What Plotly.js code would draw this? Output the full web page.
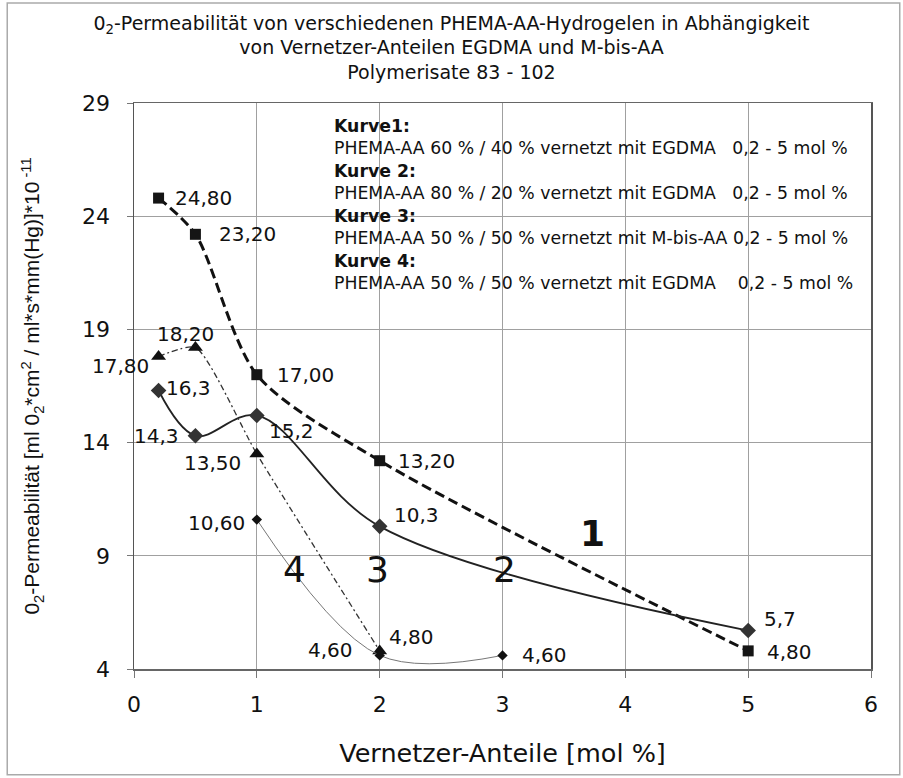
<!DOCTYPE html>
<html>
<head>
<meta charset="utf-8">
<script src="https://cdn.plot.ly/plotly-3.0.1.min.js"></script>
<style>
  html, body { margin: 0; padding: 0; background: #fff; }
  #chart { width: 903px; height: 778px; }
</style>
</head>
<body>
<div id="chart"></div>
<script>
// ---- data ----
const curve1X = [0.2, 0.5, 1, 2, 5];
const curve1Y = [24.8, 23.2, 17.0, 13.2, 4.8];
const curve1Labels = ['24,80', '23,20', '17,00', '13,20', '4,80'];

const curve2X = [0.2, 0.5, 1, 2, 5];
const curve2Y = [16.3, 14.3, 15.2, 10.3, 5.7];
const curve2Labels = ['16,3', '14,3', '15,2', '10,3', '5,7'];

const curve3X = [0.2, 0.5, 1, 2];
const curve3Y = [17.8, 18.2, 13.5, 4.8];
const curve3Labels = ['17,80', '18,20', '13,50', '4,80'];

const curve4X = [1, 2, 3];
const curve4Y = [10.6, 4.6, 4.6];
const curve4Labels = ['10,60', '4,60', '4,60'];

const curveNumbers = ['1', '2', '3', '4'];
const xTickVals = [0, 1, 2, 3, 4, 5, 6];
const yTickVals = [4, 9, 14, 19, 24, 29];

const titleLines = [
  '0<sub>2</sub>-Permeabilität von verschiedenen PHEMA-AA-Hydrogelen in Abhängigkeit',
  'von Vernetzer-Anteilen EGDMA und M-bis-AA',
  'Polymerisate 83 - 102'
];
const xTitle = 'Vernetzer-Anteile [mol %]';
const yTitle = '0<sub>2</sub>-Permeabilität [ml 0<sub>2</sub>*cm<sup>2</sup> / ml*s*mm(Hg)]*10<sup> -11</sup>';
const legendLines = [
  '<b>Kurve1:</b>',
  'PHEMA-AA 60 % / 40 % vernetzt mit EGDMA&nbsp;&nbsp;&nbsp;0,2 - 5 mol %',
  '<b>Kurve 2:</b>',
  'PHEMA-AA 80 % / 20 % vernetzt mit EGDMA&nbsp;&nbsp;&nbsp;0,2 - 5 mol %',
  '<b>Kurve 3:</b>',
  'PHEMA-AA 50 % / 50 % vernetzt mit M-bis-AA 0,2 - 5 mol %',
  '<b>Kurve 4:</b>',
  'PHEMA-AA 50 % / 50 % vernetzt mit EGDMA&nbsp;&nbsp;&nbsp;&nbsp;0,2 - 5 mol %'
];

// ---- styles / placement (pixel offsets of value labels: [xshift, yshift, xanchor]) ----
const FONT = 'DejaVu Sans, sans-serif';
const off1 = [[14, 0, 'left'], [22, 0, 'left'], [18, 0, 'left'], [16, 0, 'left'], [17, -1, 'left']];
const off2 = [[5, 3, 'left'], [-14, 0, 'right'], [10, -16, 'left'], [12, 11, 'left'], [14, 12, 'left']];
const off3 = [[-8, -9, 'right'], [-10, 14, 'center'], [-14, -9, 'right'], [7, 14, 'left']];
const off4 = [[-10, -3, 'right'], [-25, 5, 'right'], [17, 0, 'left']];
const numberPos = [[3.73, 10.0, true], [3.02, 8.4, false], [1.98, 8.4, false], [1.31, 8.4, false]];

const traces = [
  {
    x: curve1X, y: curve1Y, mode: 'lines+markers', type: 'scatter',
    line: { color: '#111', width: 3, dash: '10px,5px', shape: 'spline', smoothing: 0.8 },
    marker: { symbol: 'square', size: 11, color: '#151515' }
  },
  {
    x: curve2X, y: curve2Y, mode: 'lines+markers', type: 'scatter',
    line: { color: '#222', width: 1.8, shape: 'spline', smoothing: 1 },
    marker: { symbol: 'diamond', size: 12, color: '#333' }
  },
  {
    x: curve3X, y: curve3Y, mode: 'lines+markers', type: 'scatter',
    line: { color: '#333', width: 1.3, dash: '6px,3px,2px,3px', shape: 'spline', smoothing: 0.6 },
    marker: { symbol: 'triangle-up', size: 13, color: '#111' }
  },
  {
    x: curve4X, y: curve4Y, mode: 'lines+markers', type: 'scatter',
    line: { color: '#777', width: 1, shape: 'spline', smoothing: 1 },
    marker: { symbol: 'diamond', size: 8, color: '#111' }
  }
];

const annotations = [];
function addLabels(xs, ys, labels, offs) {
  xs.forEach((xv, i) => {
    annotations.push({
      x: xv, y: ys[i], xref: 'x', yref: 'y', text: labels[i], showarrow: false,
      xanchor: offs[i][2], yanchor: 'middle', xshift: offs[i][0], yshift: offs[i][1],
      font: { family: FONT, size: 20, color: '#111' }
    });
  });
}
addLabels(curve1X, curve1Y, curve1Labels, off1);
addLabels(curve2X, curve2Y, curve2Labels, off2);
addLabels(curve3X, curve3Y, curve3Labels, off3);
addLabels(curve4X, curve4Y, curve4Labels, off4);

curveNumbers.forEach((n, i) => {
  annotations.push({
    x: numberPos[i][0], y: numberPos[i][1], xref: 'x', yref: 'y',
    text: numberPos[i][2] ? '<b>' + n + '</b>' : n, showarrow: false,
    xanchor: 'center', yanchor: 'middle',
    font: { family: FONT, size: 36, color: '#111' }
  });
});

annotations.push({
  x: 0.2687, y: 0.98, xref: 'paper', yref: 'paper', xanchor: 'left', yanchor: 'top',
  align: 'left', showarrow: false, text: legendLines.join('<br>'),
  font: { family: FONT, size: 17.3, color: '#111' }
});

const layout = {
  width: 903, height: 778,
  margin: { l: 134, r: 32, t: 103, b: 109 },
  paper_bgcolor: '#fff', plot_bgcolor: '#fff',
  showlegend: false,
  title: {
    text: titleLines.join('<br>'),
    x: 0.5, xref: 'container', xanchor: 'center',
    y: 0.962, yref: 'container', yanchor: 'top',
    font: { family: FONT, size: 19, color: '#111' }
  },
  xaxis: {
    range: [0, 6], tickvals: xTickVals, ticktext: xTickVals.map(String),
    showgrid: true, gridcolor: '#a0a0a0', gridwidth: 1, zeroline: false,
    ticks: 'outside', ticklen: 7, tickcolor: '#777', tickwidth: 1,
    showline: true, linecolor: '#666', linewidth: 1.5, mirror: true,
    tickfont: { family: FONT, size: 22, color: '#111' },
    ticklabelstandoff: 8,
    title: { text: xTitle, standoff: 28, font: { family: FONT, size: 25.5, color: '#111' } }
  },
  yaxis: {
    range: [4, 29], tickvals: yTickVals, ticktext: yTickVals.map(String),
    showgrid: true, gridcolor: '#a0a0a0', gridwidth: 1, zeroline: false,
    ticks: 'outside', ticklen: 6, tickcolor: '#777', tickwidth: 1,
    showline: true, linecolor: '#555', linewidth: 1.5, mirror: true,
    tickfont: { family: FONT, size: 22, color: '#111' },
    ticklabelstandoff: 12,
    title: { text: yTitle, standoff: 36, font: { family: 'Liberation Sans, Arial, sans-serif', size: 21, color: '#111' } }
  },
  shapes: [
    {
      type: 'rect', xref: 'paper', yref: 'paper', layer: 'between',
      x0: 0.259, x1: 0.993, y0: 0.652, y1: 0.998,
      fillcolor: '#fff', line: { width: 0 }
    },
    {
      type: 'rect', xref: 'paper', yref: 'paper', layer: 'below',
      x0: -0.172, x1: 1.039, y0: -0.187, y1: 1.1767,
      fillcolor: 'rgba(0,0,0,0)', line: { color: '#aaa', width: 1.5 }
    }
  ],
  annotations: annotations
};

Plotly.newPlot('chart', traces, layout, { displayModeBar: false, staticPlot: true });
</script>
</body>
</html>
